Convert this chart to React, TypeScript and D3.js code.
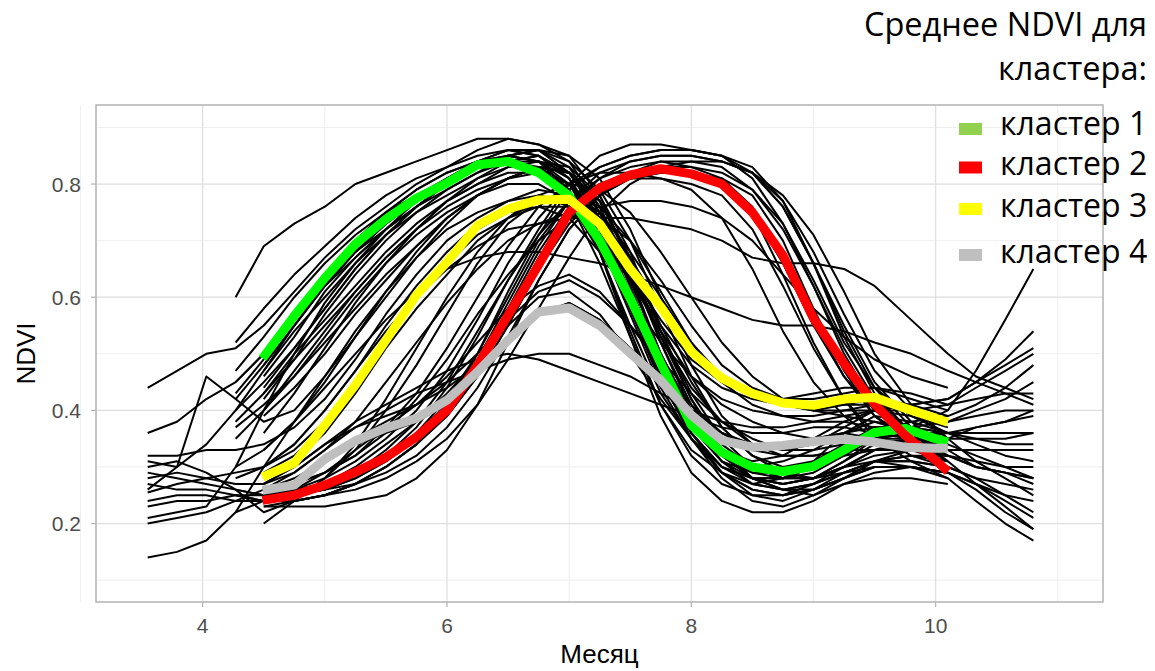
import React from 'react';
import * as d3 from 'd3';

// месяцы наблюдений (8-дневные композиты, примерно)
const GRID_MONTHS = [3.55, 3.79, 4.03, 4.27, 4.5, 4.75, 5.0, 5.25, 5.5, 5.75, 6.0, 6.25, 6.5, 6.75, 7.0,
  7.25, 7.5, 7.75, 8.0, 8.25, 8.5, 8.75, 9.0, 9.25, 9.5, 9.8, 10.1, 10.33, 10.57, 10.8];

// поля, начинающиеся с 3.55 (индекс 0)
const FIELDS_LONG = [
  [0.44, 0.47, 0.50, 0.51, 0.55, 0.61, 0.67, 0.72, 0.76, 0.80, 0.83, 0.86, 0.88, 0.87, 0.84, 0.76, 0.63, 0.50, 0.40, 0.33, 0.30, 0.29, 0.30, 0.33, 0.36, 0.37, 0.36, 0.34, 0.32, 0.31],
  [0.36, 0.38, 0.42, 0.45, 0.50, 0.56, 0.62, 0.68, 0.73, 0.77, 0.81, 0.84, 0.86, 0.86, 0.82, 0.74, 0.62, 0.48, 0.38, 0.33, 0.31, 0.32, 0.35, 0.38, 0.40, 0.41, 0.42, 0.45, 0.49, 0.54],
  [0.32, 0.32, 0.33, 0.33, 0.34, 0.37, 0.42, 0.49, 0.57, 0.64, 0.70, 0.74, 0.77, 0.79, 0.78, 0.74, 0.67, 0.58, 0.50, 0.45, 0.43, 0.42, 0.42, 0.43, 0.44, 0.43, 0.41, 0.42, 0.43, 0.43],
  [0.31, 0.30, 0.34, 0.40, 0.47, 0.55, 0.62, 0.68, 0.72, 0.76, 0.80, 0.83, 0.84, 0.85, 0.81, 0.72, 0.58, 0.45, 0.36, 0.30, 0.27, 0.26, 0.27, 0.29, 0.31, 0.31, 0.30, 0.28, 0.25, 0.22],
  [0.29, 0.28, 0.27, 0.26, 0.25, 0.26, 0.27, 0.29, 0.32, 0.36, 0.42, 0.50, 0.60, 0.70, 0.77, 0.81, 0.83, 0.84, 0.83, 0.81, 0.76, 0.67, 0.56, 0.46, 0.39, 0.35, 0.32, 0.30, 0.29, 0.28],
  [0.28, 0.29, 0.28, 0.27, 0.27, 0.30, 0.34, 0.37, 0.39, 0.41, 0.44, 0.48, 0.53, 0.57, 0.59, 0.56, 0.51, 0.46, 0.40, 0.36, 0.34, 0.34, 0.35, 0.36, 0.37, 0.37, 0.40, 0.47, 0.56, 0.65],
  [0.27, 0.26, 0.26, 0.25, 0.24, 0.24, 0.25, 0.27, 0.30, 0.34, 0.39, 0.46, 0.55, 0.65, 0.74, 0.79, 0.82, 0.83, 0.83, 0.82, 0.79, 0.73, 0.63, 0.52, 0.44, 0.39, 0.36, 0.36, 0.36, 0.36],
  [0.255, 0.27, 0.28, 0.29, 0.30, 0.33, 0.38, 0.45, 0.53, 0.60, 0.66, 0.71, 0.74, 0.76, 0.76, 0.71, 0.63, 0.55, 0.48, 0.44, 0.42, 0.41, 0.40, 0.41, 0.41, 0.40, 0.38, 0.39, 0.40, 0.40],
  [0.24, 0.25, 0.25, 0.24, 0.24, 0.25, 0.26, 0.28, 0.31, 0.35, 0.41, 0.50, 0.61, 0.71, 0.79, 0.83, 0.85, 0.86, 0.86, 0.85, 0.83, 0.77, 0.66, 0.53, 0.43, 0.36, 0.31, 0.27, 0.23, 0.19],
  [0.23, 0.24, 0.24, 0.25, 0.25, 0.26, 0.27, 0.29, 0.33, 0.38, 0.45, 0.54, 0.63, 0.71, 0.77, 0.80, 0.81, 0.81, 0.80, 0.78, 0.72, 0.62, 0.51, 0.42, 0.36, 0.32, 0.30, 0.28, 0.27, 0.26],
  [0.21, 0.22, 0.23, 0.30, 0.40, 0.50, 0.59, 0.66, 0.72, 0.77, 0.80, 0.83, 0.84, 0.83, 0.79, 0.70, 0.57, 0.44, 0.35, 0.29, 0.26, 0.25, 0.26, 0.28, 0.30, 0.30, 0.28, 0.24, 0.20, 0.17],
  [0.20, 0.21, 0.22, 0.24, 0.26, 0.29, 0.33, 0.37, 0.40, 0.43, 0.45, 0.47, 0.49, 0.50, 0.50, 0.48, 0.46, 0.43, 0.40, 0.38, 0.37, 0.37, 0.38, 0.39, 0.40, 0.40, 0.41, 0.44, 0.47, 0.50],
  [0.14, 0.15, 0.17, 0.22, 0.30, 0.38, 0.46, 0.54, 0.61, 0.67, 0.72, 0.75, 0.77, 0.78, 0.76, 0.71, 0.63, 0.54, 0.46, 0.41, 0.38, 0.36, 0.35, 0.35, 0.36, 0.36, 0.35, 0.35, 0.34, 0.34],
  [0.30, 0.31, 0.29, 0.26, 0.22, 0.24, 0.28, 0.34, 0.42, 0.51, 0.60, 0.68, 0.74, 0.78, 0.80, 0.79, 0.75, 0.68, 0.60, 0.52, 0.46, 0.42, 0.40, 0.39, 0.38, 0.36, 0.34, 0.32, 0.30, 0.28],
  [0.26, 0.30, 0.46, 0.42, 0.38, 0.40, 0.46, 0.53, 0.60, 0.67, 0.73, 0.78, 0.81, 0.83, 0.82, 0.77, 0.67, 0.54, 0.43, 0.35, 0.30, 0.28, 0.28, 0.30, 0.32, 0.33, 0.32, 0.30, 0.29, 0.27],
];

// поля, начинающиеся с 4.27 (индекс 3)
const FIELDS_MID = [
  [0.60, 0.69, 0.73, 0.76, 0.80, 0.82, 0.84, 0.86, 0.88, 0.88, 0.87, 0.85, 0.78, 0.66, 0.53, 0.42, 0.34, 0.30, 0.28, 0.28, 0.30, 0.31, 0.30, 0.29, 0.27, 0.25, 0.24],
  [0.47, 0.53, 0.60, 0.66, 0.71, 0.75, 0.79, 0.82, 0.84, 0.85, 0.84, 0.81, 0.73, 0.60, 0.47, 0.37, 0.31, 0.28, 0.27, 0.28, 0.31, 0.35, 0.37, 0.38, 0.40, 0.42, 0.45],
  [0.45, 0.50, 0.56, 0.62, 0.68, 0.73, 0.77, 0.80, 0.83, 0.85, 0.86, 0.85, 0.81, 0.72, 0.60, 0.48, 0.39, 0.34, 0.33, 0.34, 0.37, 0.40, 0.41, 0.42, 0.45, 0.48, 0.51],
  [0.42, 0.48, 0.55, 0.62, 0.67, 0.72, 0.76, 0.79, 0.82, 0.84, 0.84, 0.82, 0.76, 0.65, 0.52, 0.41, 0.33, 0.28, 0.26, 0.26, 0.28, 0.31, 0.32, 0.32, 0.31, 0.30, 0.30],
  [0.38, 0.43, 0.49, 0.55, 0.61, 0.67, 0.72, 0.76, 0.79, 0.81, 0.82, 0.80, 0.74, 0.64, 0.53, 0.44, 0.38, 0.34, 0.32, 0.32, 0.33, 0.35, 0.36, 0.36, 0.35, 0.35, 0.36],
  [0.35, 0.40, 0.47, 0.54, 0.61, 0.67, 0.72, 0.77, 0.80, 0.83, 0.84, 0.83, 0.78, 0.68, 0.54, 0.42, 0.33, 0.28, 0.26, 0.25, 0.27, 0.29, 0.30, 0.29, 0.27, 0.24, 0.21],
  [0.28, 0.30, 0.34, 0.40, 0.47, 0.54, 0.60, 0.65, 0.69, 0.72, 0.73, 0.74, 0.74, 0.74, 0.73, 0.72, 0.70, 0.67, 0.66, 0.66, 0.65, 0.62, 0.56, 0.50, 0.46, 0.44, 0.42],
  [0.26, 0.25, 0.26, 0.28, 0.31, 0.35, 0.40, 0.47, 0.56, 0.66, 0.74, 0.80, 0.83, 0.85, 0.86, 0.86, 0.85, 0.82, 0.76, 0.66, 0.55, 0.45, 0.38, 0.33, 0.30, 0.29, 0.28],
  [0.22, 0.24, 0.27, 0.31, 0.35, 0.38, 0.41, 0.45, 0.50, 0.56, 0.61, 0.63, 0.60, 0.55, 0.49, 0.43, 0.38, 0.35, 0.33, 0.33, 0.34, 0.34, 0.33, 0.33, 0.33, 0.33, 0.33],
  [0.52, 0.58, 0.64, 0.69, 0.74, 0.78, 0.81, 0.83, 0.85, 0.86, 0.85, 0.82, 0.75, 0.63, 0.50, 0.39, 0.32, 0.28, 0.27, 0.28, 0.30, 0.33, 0.35, 0.36, 0.37, 0.38, 0.40],
  [0.43, 0.49, 0.57, 0.64, 0.70, 0.75, 0.78, 0.81, 0.83, 0.84, 0.82, 0.77, 0.68, 0.55, 0.43, 0.35, 0.29, 0.26, 0.25, 0.26, 0.28, 0.30, 0.30, 0.29, 0.26, 0.22, 0.19],
  [0.40, 0.45, 0.51, 0.58, 0.65, 0.71, 0.76, 0.80, 0.83, 0.85, 0.86, 0.84, 0.79, 0.70, 0.58, 0.46, 0.37, 0.32, 0.30, 0.31, 0.33, 0.36, 0.38, 0.39, 0.41, 0.44, 0.48],
  [0.37, 0.41, 0.46, 0.52, 0.58, 0.64, 0.69, 0.74, 0.78, 0.81, 0.83, 0.82, 0.77, 0.67, 0.55, 0.45, 0.37, 0.32, 0.29, 0.28, 0.29, 0.31, 0.33, 0.35, 0.37, 0.38, 0.39],
  [0.25, 0.24, 0.24, 0.25, 0.27, 0.30, 0.34, 0.40, 0.48, 0.58, 0.68, 0.76, 0.81, 0.84, 0.85, 0.85, 0.84, 0.82, 0.78, 0.71, 0.61, 0.50, 0.41, 0.35, 0.31, 0.28, 0.25],
  [0.30, 0.33, 0.38, 0.44, 0.50, 0.56, 0.61, 0.65, 0.67, 0.68, 0.68, 0.67, 0.66, 0.64, 0.62, 0.60, 0.58, 0.56, 0.55, 0.55, 0.54, 0.52, 0.50, 0.47, 0.45, 0.43, 0.41],
];

// поля с 4.5 по 10.1 (индексы 4..26)
const FIELDS_SHORT = [
  [0.50, 0.57, 0.64, 0.70, 0.75, 0.79, 0.82, 0.84, 0.85, 0.84, 0.80, 0.71, 0.58, 0.45, 0.36, 0.30, 0.28, 0.28, 0.30, 0.33, 0.35, 0.35, 0.34],
  [0.46, 0.53, 0.61, 0.67, 0.72, 0.76, 0.80, 0.83, 0.84, 0.82, 0.77, 0.66, 0.53, 0.41, 0.33, 0.29, 0.27, 0.28, 0.31, 0.36, 0.39, 0.38, 0.36],
  [0.42, 0.49, 0.57, 0.64, 0.70, 0.75, 0.79, 0.82, 0.85, 0.86, 0.83, 0.75, 0.62, 0.48, 0.37, 0.31, 0.29, 0.29, 0.31, 0.34, 0.37, 0.37, 0.35],
  [0.40, 0.46, 0.53, 0.60, 0.66, 0.71, 0.75, 0.78, 0.80, 0.80, 0.77, 0.70, 0.58, 0.46, 0.37, 0.32, 0.30, 0.31, 0.33, 0.36, 0.38, 0.37, 0.36],
  [0.25, 0.25, 0.27, 0.29, 0.32, 0.36, 0.41, 0.48, 0.57, 0.67, 0.75, 0.80, 0.82, 0.83, 0.82, 0.80, 0.75, 0.66, 0.55, 0.46, 0.40, 0.36, 0.33],
  [0.23, 0.24, 0.25, 0.27, 0.30, 0.34, 0.39, 0.46, 0.55, 0.65, 0.73, 0.78, 0.81, 0.82, 0.82, 0.81, 0.78, 0.70, 0.58, 0.47, 0.39, 0.34, 0.30],
  [0.24, 0.24, 0.25, 0.26, 0.28, 0.31, 0.35, 0.41, 0.49, 0.58, 0.67, 0.75, 0.80, 0.83, 0.84, 0.84, 0.82, 0.77, 0.68, 0.57, 0.47, 0.40, 0.35],
  [0.26, 0.27, 0.29, 0.32, 0.37, 0.43, 0.51, 0.60, 0.69, 0.76, 0.80, 0.82, 0.82, 0.81, 0.79, 0.74, 0.65, 0.54, 0.45, 0.39, 0.35, 0.33, 0.31],
  [0.30, 0.34, 0.40, 0.47, 0.55, 0.62, 0.68, 0.73, 0.76, 0.78, 0.77, 0.72, 0.64, 0.56, 0.49, 0.45, 0.43, 0.42, 0.43, 0.44, 0.44, 0.42, 0.40],
  [0.28, 0.31, 0.36, 0.43, 0.51, 0.58, 0.64, 0.70, 0.74, 0.77, 0.78, 0.75, 0.68, 0.60, 0.52, 0.46, 0.43, 0.41, 0.40, 0.40, 0.40, 0.39, 0.37],
  [0.27, 0.29, 0.33, 0.38, 0.45, 0.52, 0.59, 0.65, 0.70, 0.73, 0.75, 0.74, 0.70, 0.63, 0.55, 0.48, 0.44, 0.42, 0.41, 0.41, 0.42, 0.41, 0.39],
  [0.26, 0.28, 0.31, 0.34, 0.36, 0.38, 0.41, 0.46, 0.52, 0.57, 0.59, 0.56, 0.51, 0.46, 0.40, 0.36, 0.34, 0.34, 0.35, 0.36, 0.35, 0.34, 0.33],
  [0.27, 0.30, 0.34, 0.38, 0.41, 0.44, 0.47, 0.49, 0.50, 0.49, 0.47, 0.45, 0.43, 0.41, 0.39, 0.37, 0.36, 0.36, 0.37, 0.37, 0.36, 0.35, 0.34],
  [0.23, 0.23, 0.23, 0.24, 0.25, 0.28, 0.33, 0.41, 0.52, 0.63, 0.72, 0.78, 0.81, 0.82, 0.82, 0.80, 0.75, 0.64, 0.52, 0.42, 0.35, 0.31, 0.28],
  [0.44, 0.51, 0.58, 0.65, 0.71, 0.76, 0.80, 0.83, 0.85, 0.84, 0.79, 0.68, 0.54, 0.41, 0.32, 0.27, 0.25, 0.25, 0.27, 0.29, 0.30, 0.30, 0.29],
  [0.48, 0.55, 0.62, 0.68, 0.73, 0.77, 0.81, 0.84, 0.86, 0.85, 0.81, 0.72, 0.59, 0.46, 0.36, 0.29, 0.25, 0.24, 0.26, 0.29, 0.31, 0.31, 0.30],
  [0.20, 0.24, 0.28, 0.33, 0.40, 0.48, 0.57, 0.66, 0.73, 0.77, 0.78, 0.76, 0.70, 0.61, 0.52, 0.45, 0.41, 0.39, 0.38, 0.38, 0.37, 0.36, 0.35],
  [0.25, 0.26, 0.27, 0.29, 0.32, 0.37, 0.44, 0.53, 0.63, 0.72, 0.80, 0.85, 0.87, 0.87, 0.86, 0.85, 0.81, 0.73, 0.62, 0.50, 0.41, 0.35, 0.31],
  [0.25, 0.26, 0.29, 0.33, 0.37, 0.41, 0.46, 0.52, 0.58, 0.62, 0.64, 0.61, 0.55, 0.48, 0.41, 0.36, 0.33, 0.32, 0.32, 0.33, 0.33, 0.33, 0.32],
  [0.26, 0.27, 0.29, 0.32, 0.36, 0.42, 0.49, 0.57, 0.64, 0.70, 0.74, 0.76, 0.77, 0.77, 0.76, 0.74, 0.70, 0.64, 0.58, 0.53, 0.49, 0.46, 0.44],
  [0.47, 0.54, 0.60, 0.66, 0.71, 0.75, 0.78, 0.81, 0.83, 0.83, 0.80, 0.73, 0.61, 0.48, 0.38, 0.31, 0.27, 0.26, 0.27, 0.30, 0.33, 0.34, 0.33],
  [0.43, 0.50, 0.56, 0.62, 0.68, 0.73, 0.77, 0.81, 0.84, 0.85, 0.82, 0.74, 0.60, 0.46, 0.35, 0.28, 0.24, 0.23, 0.25, 0.28, 0.31, 0.32, 0.31],
  [0.39, 0.44, 0.50, 0.57, 0.63, 0.69, 0.74, 0.78, 0.81, 0.83, 0.82, 0.77, 0.66, 0.52, 0.40, 0.32, 0.28, 0.27, 0.28, 0.31, 0.34, 0.35, 0.34],
  [0.33, 0.38, 0.45, 0.53, 0.61, 0.68, 0.74, 0.78, 0.81, 0.83, 0.82, 0.76, 0.64, 0.50, 0.39, 0.32, 0.29, 0.28, 0.29, 0.32, 0.35, 0.36, 0.35],
  [0.24, 0.25, 0.26, 0.28, 0.31, 0.35, 0.41, 0.49, 0.59, 0.69, 0.77, 0.82, 0.84, 0.85, 0.85, 0.84, 0.82, 0.76, 0.66, 0.54, 0.44, 0.37, 0.33],
  [0.25, 0.25, 0.26, 0.27, 0.29, 0.32, 0.37, 0.44, 0.53, 0.63, 0.72, 0.78, 0.82, 0.84, 0.84, 0.83, 0.79, 0.72, 0.62, 0.51, 0.42, 0.36, 0.32],
  [0.24, 0.25, 0.27, 0.30, 0.34, 0.38, 0.43, 0.49, 0.55, 0.60, 0.61, 0.57, 0.50, 0.42, 0.35, 0.30, 0.28, 0.28, 0.30, 0.32, 0.33, 0.33, 0.32],
  [0.29, 0.32, 0.37, 0.44, 0.52, 0.60, 0.67, 0.72, 0.75, 0.76, 0.74, 0.68, 0.60, 0.52, 0.46, 0.42, 0.40, 0.39, 0.39, 0.40, 0.41, 0.40, 0.38],
  [0.36, 0.43, 0.51, 0.59, 0.66, 0.72, 0.77, 0.80, 0.82, 0.82, 0.78, 0.68, 0.53, 0.39, 0.29, 0.24, 0.22, 0.22, 0.24, 0.27, 0.28, 0.28, 0.27],
];

// средние по кластерам
const MEAN_MONTHS = [4.49, 4.75, 5.0, 5.25, 5.5, 5.75, 6.0, 6.25, 6.5, 6.75, 7.0, 7.25, 7.5, 7.75,
  8.0, 8.25, 8.5, 8.75, 9.0, 9.25, 9.5, 9.75, 10.0, 10.1];
const MEAN_C1 = [0.492, 0.567, 0.634, 0.694, 0.738, 0.775, 0.802, 0.834, 0.84, 0.82, 0.779, 0.70, 0.598, 0.483,
  0.374, 0.326, 0.30, 0.292, 0.301, 0.33, 0.361, 0.368, 0.35, 0.344];
const MEAN_C2 = [0.241, 0.25, 0.268, 0.291, 0.317, 0.353, 0.40, 0.48, 0.568, 0.657, 0.75, 0.793, 0.816, 0.827,
  0.818, 0.80, 0.75, 0.674, 0.563, 0.483, 0.411, 0.356, 0.312, 0.292];
const MEAN_C3 = [0.282, 0.307, 0.374, 0.445, 0.524, 0.604, 0.662, 0.727, 0.756, 0.772, 0.773, 0.73, 0.65, 0.583,
  0.504, 0.457, 0.43, 0.413, 0.409, 0.42, 0.423, 0.404, 0.386, 0.379];
const MEAN_C4 = [0.259, 0.268, 0.314, 0.346, 0.369, 0.386, 0.418, 0.468, 0.524, 0.574, 0.581, 0.55, 0.501, 0.453,
  0.392, 0.347, 0.335, 0.338, 0.345, 0.349, 0.344, 0.335, 0.333, 0.333];

const CLUSTER_LABELS = ['кластер 1', 'кластер 2', 'кластер 3', 'кластер 4'];
const LINE_COLORS = ['#00ff00', '#ff0000', '#ffff00', '#bebebe'];
const KEY_COLORS = ['#92d050', '#ff0000', '#ffff00', '#bfbfbf'];

const X_TICKS = [4, 6, 8, 10];
const X_MINOR = [3, 5, 7, 9, 11];
const Y_TICKS = [0.2, 0.4, 0.6, 0.8];
const Y_MINOR = [0.1, 0.3, 0.5, 0.7, 0.9];

export default function App() {
  const width = 1155;
  const height = 671;
  const margin = { top: 105, right: 52, bottom: 69, left: 96 };

  const x = d3.scaleLinear().domain([3.127, 11.37]).range([margin.left, width - margin.right]);
  const y = d3.scaleLinear().domain([0.0614, 0.9397]).range([height - margin.bottom, margin.top]);

  const line = d3.line<[number, number]>()
    .x(d => x(d[0]))
    .y(d => y(d[1]));

  const fieldPath = (vals: number[], start: number) =>
    line(vals.map((v, i) => [GRID_MONTHS[start + i], v] as [number, number]));

  const fields = [
    ...FIELDS_LONG.map(v => fieldPath(v, 0)),
    ...FIELDS_MID.map(v => fieldPath(v, 3)),
    ...FIELDS_SHORT.map(v => fieldPath(v, 4)),
  ];

  const means = [MEAN_C1, MEAN_C2, MEAN_C3, MEAN_C4].map(vals =>
    line(vals.map((v, i) => [MEAN_MONTHS[i], v] as [number, number])));

  const axisFont = '"Liberation Sans", Arial, sans-serif';
  const legendFont = '"Open Sans", sans-serif';
  const [x0, x1] = x.range();
  const [y0, y1] = y.range();

  const legendRows = [
    { key: 129, base: 135 },
    { key: 167.5, base: 175 },
    { key: 209, base: 216.5 },
    { key: 255, base: 263 },
  ];

  return (
    <svg width={width} height={height} style={{ position: 'absolute', left: 0, top: 0, background: '#fff' }}>
      <rect x={0} y={0} width={width} height={height} fill="#fff" />

      {/* сетка */}
      {X_MINOR.map(t => (
        <line key={'xm' + t} x1={x(t)} x2={x(t)} y1={y1} y2={y0} stroke="#ededed" strokeWidth={0.9} />
      ))}
      {Y_MINOR.map(t => (
        <line key={'ym' + t} x1={x0} x2={x1} y1={y(t)} y2={y(t)} stroke="#ededed" strokeWidth={0.9} />
      ))}
      {X_TICKS.map(t => (
        <line key={'xg' + t} x1={x(t)} x2={x(t)} y1={y1} y2={y0} stroke="#dedede" strokeWidth={1.2} />
      ))}
      {Y_TICKS.map(t => (
        <line key={'yg' + t} x1={x0} x2={x1} y1={y(t)} y2={y(t)} stroke="#dedede" strokeWidth={1.2} />
      ))}

      {/* отдельные поля */}
      <g fill="none" stroke="#000" strokeWidth={2} strokeLinejoin="round">
        {fields.map((d, i) => <path key={i} d={d || ''} />)}
      </g>

      {/* средние по кластерам */}
      <g fill="none" strokeWidth={9} strokeLinejoin="round">
        {means.map((d, i) => <path key={i} d={d || ''} stroke={LINE_COLORS[i]} />)}
      </g>

      <rect x={x0} y={y1} width={x1 - x0} height={y0 - y1} fill="none" stroke="#b3b3b3" strokeWidth={1.5} />

      {/* оси */}
      {X_TICKS.map(t => (
        <g key={'xt' + t}>
          <line x1={x(t)} x2={x(t)} y1={y0} y2={y0 + 5} stroke="#b3b3b3" strokeWidth={1.2} />
          <text x={x(t)} y={633} textAnchor="middle" fontFamily={axisFont} fontSize={21} fill="#4d4d4d">{t}</text>
        </g>
      ))}
      {Y_TICKS.map(t => (
        <g key={'yt' + t}>
          <line x1={x0 - 5} x2={x0} y1={y(t)} y2={y(t)} stroke="#b3b3b3" strokeWidth={1.2} />
          <text x={81} y={y(t) + 7.5} textAnchor="end" fontFamily={axisFont} fontSize={21} fill="#4d4d4d">{t.toFixed(1)}</text>
        </g>
      ))}
      <text x={(x0 + x1) / 2} y={663} textAnchor="middle" fontFamily={axisFont} fontSize={26} fill="#000">Месяц</text>
      <text transform={`translate(35, ${(y0 + y1) / 2}) rotate(-90)`} textAnchor="middle" fontFamily={axisFont} fontSize={26} fill="#000">NDVI</text>

      {/* легенда */}
      <g fontFamily={legendFont} fill="#000">
        <text x={1147} y={36} textAnchor="end" fontSize={32.5}>Среднее NDVI для</text>
        <text x={1147} y={80} textAnchor="end" fontSize={32.5}>кластера:</text>
        {CLUSTER_LABELS.map((lab, i) => (
          <g key={lab}>
            <rect x={959} y={legendRows[i].key - 6} width={23} height={12} fill={KEY_COLORS[i]} />
            <text x={1000} y={legendRows[i].base} fontSize={32}>{lab}</text>
          </g>
        ))}
      </g>
    </svg>
  );
}
